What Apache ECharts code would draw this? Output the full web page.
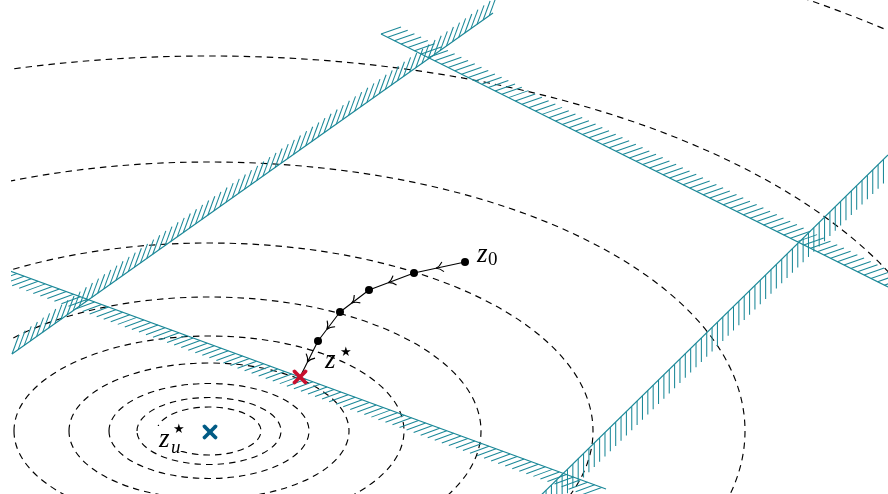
<!DOCTYPE html>
<html>
<head>
<meta charset="utf-8">
<script src="https://cdn.jsdelivr.net/npm/echarts@6/dist/echarts.min.js"></script>
<style>
  html, body { margin: 0; padding: 0; background: #fff; }
  #chart { width: 888px; height: 494px; }
</style>
</head>
<body>
<div id="chart"></div>
<script>
// level sets of the unconstrained cost, centred on z_u*
const contourCx = 209
const contourCy = 431
const contourRx = [52, 72, 100, 140, 195, 272, 384, 536, 750, 1050]
const contourRy = [24, 33.5, 47.5, 68, 95, 134, 188, 269, 375, 525]

// constraint boundaries [x1, y1, x2, y2]
const boundaries = [
  [12, 354, 493, 13],
  [381, 34, 888, 287],
  [10, 271, 606, 489],
  [530, 506, 888, 155]
]

// iterates, z0 first, z* last
const iterX = [465, 414, 369, 340, 318, 300]
const iterY = [262, 273, 290, 312, 341, 377]

// optimum markers: constrained z*, unconstrained z_u*
const markX = [300, 210]
const markY = [377, 432]

// labels (baseline of the z)
const labelX = [477, 325, 159]
const labelY = [263, 369, 448]

const TEAL = '#1b8898'
const MARK_COLORS = ['#c8102e', '#005b85']
// stroke vector of the hatch for each boundary (shows the infeasible side)
const HATCH = [[7, -19], [20, -7], [-19, 7], [0, 24]]
const HATCH_GAP = 7.5
const SERIF = '"Liberation Serif", "DejaVu Serif", serif'

const chart = echarts.init(document.getElementById('chart'))

function renderContour (params, api) {
  const c = api.coord([api.value(0), api.value(1)])
  const s = api.size([api.value(2), api.value(3)])
  return {
    type: 'ellipse',
    shape: { cx: c[0], cy: c[1], rx: s[0], ry: s[1] },
    style: { fill: null, stroke: '#000', lineWidth: 1.15, lineDash: [6.5, 5] }
  }
}

function renderBoundary (params, api) {
  const p1 = api.coord([api.value(0), api.value(1)])
  const p2 = api.coord([api.value(2), api.value(3)])
  const h = HATCH[params.dataIndex]
  const dx = p2[0] - p1[0]
  const dy = p2[1] - p1[1]
  const len = Math.sqrt(dx * dx + dy * dy)
  const children = []
  for (let d = 0; d <= len; d += HATCH_GAP) {
    const x = p1[0] + dx * d / len
    const y = p1[1] + dy * d / len
    children.push({
      type: 'line',
      shape: { x1: x, y1: y, x2: x + h[0], y2: y + h[1] },
      style: { stroke: TEAL, lineWidth: 1.05 }
    })
  }
  children.push({
    type: 'line',
    shape: { x1: p1[0], y1: p1[1], x2: p2[0], y2: p2[1] },
    style: { stroke: TEAL, lineWidth: 1.2 }
  })
  return { type: 'group', children: children }
}

// arrow head in the middle of each step, pointing towards z*
function renderArrow (params, api) {
  const a = api.coord([api.value(0), api.value(1)])
  const b = api.coord([api.value(2), api.value(3)])
  const len = Math.hypot(b[0] - a[0], b[1] - a[1])
  const ux = (b[0] - a[0]) / len
  const uy = (b[1] - a[1]) / len
  const mx = (a[0] + b[0]) / 2
  const my = (a[1] + b[1]) / 2
  const tx = mx + ux * 3.5
  const ty = my + uy * 3.5
  const barb = function (sgn) {
    return {
      type: 'bezierCurve',
      shape: {
        x1: mx - ux * 3.5 + sgn * uy * 5, y1: my - uy * 3.5 - sgn * ux * 5,
        cpx1: mx - ux * 0.2 + sgn * uy * 0.8, cpy1: my - uy * 0.2 - sgn * ux * 0.8,
        x2: tx, y2: ty
      },
      style: { fill: null, stroke: '#000', lineWidth: 1.1 }
    }
  }
  return { type: 'group', children: [barb(1), barb(-1)] }
}

function renderCross (params, api) {
  const c = api.coord([api.value(0), api.value(1)])
  const r = 5.5
  const style = { stroke: MARK_COLORS[params.dataIndex], lineWidth: 3.8, lineCap: 'round' }
  return {
    type: 'group',
    children: [
      { type: 'line', shape: { x1: c[0] - r, y1: c[1] - r, x2: c[0] + r, y2: c[1] + r }, style: style },
      { type: 'line', shape: { x1: c[0] - r, y1: c[1] + r, x2: c[0] + r, y2: c[1] - r }, style: style }
    ]
  }
}

// pieces of each label: text, dx, dy (from the z baseline), size, italic
const LABEL_PARTS = [
  [['z', 0, 0, 27, true], ['0', 11, 3, 19, false]],
  [['z', 0, 0, 27, true], ['\u2605', 15, -13, 13, false]],
  [['z', 0, 0, 27, true], ['\u2605', 14, -15, 13, false], ['u', 12, 6, 19, true]]
]
// white box behind the z_u* node (hides the inner contour there)
const LABEL_BOX = [null, null, [-3, -22, 30, 25]]

function renderLabel (params, api) {
  const c = api.coord([api.value(0), api.value(1)])
  const parts = LABEL_PARTS[params.dataIndex]
  const box = LABEL_BOX[params.dataIndex]
  const children = []
  if (box) {
    children.push({
      type: 'rect',
      shape: { x: c[0] + box[0], y: c[1] + box[1], width: box[2], height: box[3] },
      style: { fill: '#fff' }
    })
  }
  parts.forEach(function (p) {
    children.push({
      type: 'text',
      x: c[0] + p[1],
      y: c[1] + p[2] - p[3] * 0.3,
      style: {
        text: p[0],
        fontFamily: SERIF,
        fontSize: p[3],
        fontStyle: p[4] ? 'italic' : 'normal',
        fill: '#000',
        align: 'left',
        verticalAlign: 'middle'
      }
    })
  })
  return { type: 'group', children: children }
}

const contourData = contourRx.map(function (rx, i) {
  return [contourCx, contourCy, rx, contourRy[i]]
})
const iterData = iterX.map(function (x, i) {
  // z* itself is shown by the red cross, not a dot
  return i === iterX.length - 1
    ? { value: [x, iterY[i]], symbol: 'none' }
    : [x, iterY[i]]
})
const stepData = []
for (let i = 0; i < iterX.length - 1; i++) {
  stepData.push([iterX[i], iterY[i], iterX[i + 1], iterY[i + 1]])
}

const option = {
  animation: false,
  backgroundColor: '#ffffff',
  grid: { left: 11, right: 0, top: 0, bottom: 0 },
  xAxis: { type: 'value', min: 11, max: 888, show: false },
  yAxis: { type: 'value', min: 0, max: 494, inverse: true, show: false },
  series: [
    {
      type: 'custom',
      clip: true,
      renderItem: renderContour,
      data: contourData,
      z: 1
    },
    {
      type: 'custom',
      clip: true,
      renderItem: renderBoundary,
      data: boundaries,
      z: 2
    },
    {
      type: 'line',
      data: iterData,
      symbol: 'circle',
      symbolSize: 8,
      itemStyle: { color: '#000' },
      lineStyle: { color: '#000', width: 1.1 },
      z: 3
    },
    {
      type: 'custom',
      renderItem: renderArrow,
      data: stepData,
      z: 4
    },
    {
      type: 'custom',
      renderItem: renderCross,
      data: markX.map(function (x, i) { return [x, markY[i]] }),
      z: 5
    },
    {
      type: 'custom',
      renderItem: renderLabel,
      data: labelX.map(function (x, i) { return [x, labelY[i]] }),
      z: 6
    }
  ]
}

chart.setOption(option)
</script>
</body>
</html>
